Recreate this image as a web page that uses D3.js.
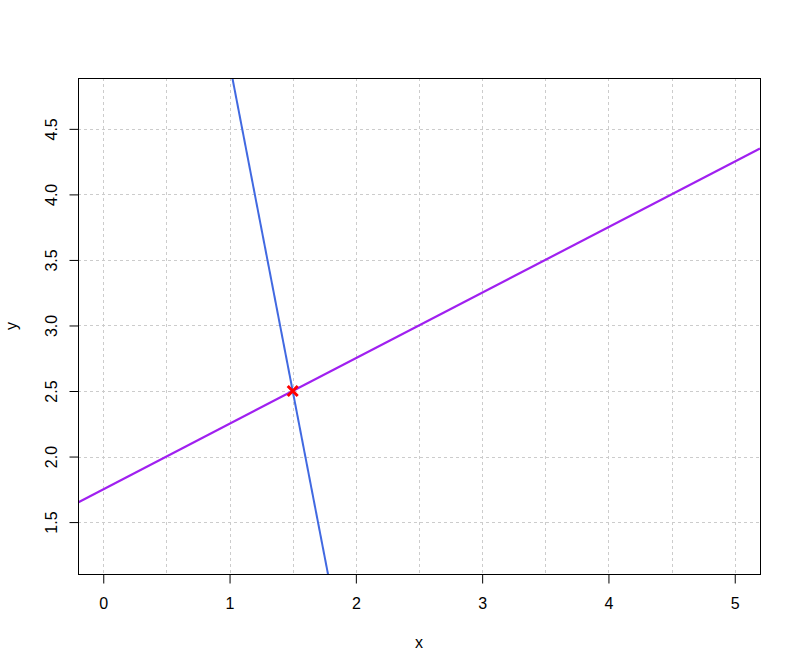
<!DOCTYPE html>
<html>
<head>
<meta charset="utf-8">
<script src="https://cdn.jsdelivr.net/npm/d3@7"></script>
<style>
  html, body { margin: 0; padding: 0; background: #ffffff; }
  svg { display: block; }
  text { font-family: "Liberation Sans", Arial, sans-serif; fill: #000; }
</style>
</head>
<body>
<div id="chart"></div>
<script>
// ---- data ----
const xDomain = [-0.2, 5.2];
const yDomain = [1.104, 4.888];
const xTicks = [0, 1, 2, 3, 4, 5];
const yTicks = [1.5, 2.0, 2.5, 3.0, 3.5, 4.0, 4.5];
const xGrid = [0, 0.5, 1, 1.5, 2, 2.5, 3, 3.5, 4, 4.5, 5];
const yGrid = [1.5, 2.0, 2.5, 3.0, 3.5, 4.0, 4.5];
// line 1: y = 0.5 x + 1.75 (purple)
const line1Intercept = 1.75, line1Slope = 0.5;
// line 2: y = -5 x + 10 (blue)
const line2Intercept = 10, line2Slope = -5;
// intersection point
const pointX = [1.5];
const pointY = [2.5];

// ---- layout ----
const W = 801, H = 672;
const pLeft = 78, pRight = 760, pTop = 78, pBottom = 574;

const svg = d3.select("#chart").append("svg")
  .attr("width", W).attr("height", H);

const x = d3.scaleLinear().domain(xDomain).range([pLeft, pRight]);
const y = d3.scaleLinear().domain(yDomain).range([pBottom, pTop]);

// clip
svg.append("clipPath").attr("id", "clip")
  .append("rect").attr("x", pLeft).attr("y", pTop)
  .attr("width", pRight - pLeft).attr("height", pBottom - pTop);

// grid
const grid = svg.append("g").attr("stroke", "#cccccc").attr("stroke-width", 1)
  .attr("stroke-dasharray", "3,3");
grid.selectAll("line.v").data(xGrid).enter().append("line")
  .attr("x1", d => Math.round(x(d)) + 0.5).attr("x2", d => Math.round(x(d)) + 0.5)
  .attr("y1", pTop).attr("y2", pBottom);
grid.selectAll("line.h").data(yGrid).enter().append("line")
  .attr("y1", d => Math.round(y(d)) + 0.5).attr("y2", d => Math.round(y(d)) + 0.5)
  .attr("x1", pLeft).attr("x2", pRight);

// lines
const plotG = svg.append("g").attr("clip-path", "url(#clip)");
function abline(a, b) {
  return [[xDomain[0], a + b * xDomain[0]], [xDomain[1], a + b * xDomain[1]]];
}
const lineGen = d3.line().x(d => x(d[0])).y(d => y(d[1]));
plotG.append("path").datum(abline(line2Intercept, line2Slope))
  .attr("d", lineGen).attr("fill", "none")
  .attr("stroke", "#4169E1").attr("stroke-width", 2);
plotG.append("path").datum(abline(line1Intercept, line1Slope))
  .attr("d", lineGen).attr("fill", "none")
  .attr("stroke", "#A020F0").attr("stroke-width", 2.2);

// point (pch = 4)
const pts = pointX.map((v, i) => [v, pointY[i]]);
const s = 5;
svg.append("g").selectAll("path").data(pts).enter().append("path")
  .attr("d", d => {
    const cx = x(d[0]), cy = y(d[1]);
    return `M${cx - s},${cy - s}L${cx + s},${cy + s}M${cx - s},${cy + s}L${cx + s},${cy - s}`;
  })
  .attr("stroke", "#FF0000").attr("stroke-width", 3).attr("fill", "none");

// box
svg.append("rect").attr("x", pLeft + 0.5).attr("y", pTop + 0.5)
  .attr("width", pRight - pLeft).attr("height", pBottom - pTop)
  .attr("fill", "none").attr("stroke", "#000").attr("stroke-width", 1);

// x axis
const xAxisG = svg.append("g")
  .attr("transform", `translate(0,${pBottom + 0.5})`)
  .call(d3.axisBottom(x).tickValues(xTicks).tickFormat(d3.format("d"))
    .tickSize(9).tickSizeOuter(0).tickPadding(0));
xAxisG.select(".domain").remove();
xAxisG.selectAll(".tick line").attr("stroke", "#000");
xAxisG.selectAll(".tick text")
  .attr("y", 0).attr("dy", 0)
  .attr("transform", "translate(0,34)")
  .style("font-size", "16px")
  .style("font-family", "'Liberation Sans', Arial, sans-serif")
  .attr("fill", "#000");

// y axis
const yAxisG = svg.append("g")
  .attr("transform", `translate(${pLeft + 0.5},0)`)
  .call(d3.axisLeft(y).tickValues(yTicks).tickFormat(d3.format(".1f"))
    .tickSize(9).tickSizeOuter(0).tickPadding(0));
yAxisG.select(".domain").remove();
yAxisG.selectAll(".tick line").attr("stroke", "#000");
yAxisG.selectAll(".tick text")
  .attr("x", 0).attr("dy", 0)
  .attr("text-anchor", "middle")
  .attr("transform", "translate(-22,0) rotate(-90)")
  .style("font-size", "16px")
  .style("font-family", "'Liberation Sans', Arial, sans-serif")
  .attr("fill", "#000");

// axis titles
svg.append("text").attr("x", (pLeft + pRight) / 2).attr("y", 648)
  .attr("text-anchor", "middle").style("font-size", "16px").text("x");
svg.append("text")
  .attr("transform", `translate(17,${(pTop + pBottom) / 2}) rotate(-90)`)
  .attr("text-anchor", "middle").style("font-size", "16px").text("y");
</script>
</body>
</html>
